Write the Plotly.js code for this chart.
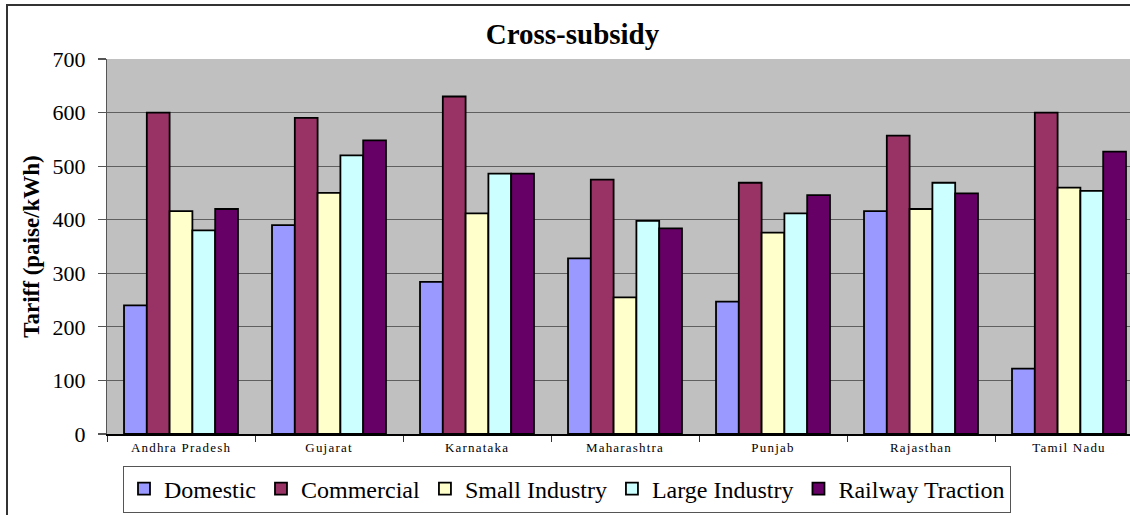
<!DOCTYPE html>
<html>
<head>
<meta charset="utf-8">
<script src="https://cdn.plot.ly/plotly-3.0.1.min.js"></script>
<style>
  html, body { margin: 0; padding: 0; background: #fff; overflow: hidden; width: 1130px; height: 515px; }
  #chart { position: absolute; left: 0; top: 0; width: 1145px; height: 515px; }
  #frame { position: absolute; left: 6px; top: 4px; width: 1200px; height: 600px;
           border: 2px solid #333; pointer-events: none; }
  #chart .xtick text { letter-spacing: 1.2px; }
</style>
</head>
<body>
<div id="chart"></div>
<div id="frame"></div>
<script>
// States on the category axis
const states = ["Andhra Pradesh", "Gujarat", "Karnataka", "Maharashtra", "Punjab", "Rajasthan", "Tamil Nadu"];

// Tariff by consumer class, paise/kWh
const domestic       = [240, 390, 284, 328, 247, 416, 122];
const commercial     = [600, 590, 630, 475, 469, 557, 600];
const smallIndustry  = [416, 450, 412, 255, 376, 420, 460];
const largeIndustry  = [380, 520, 486, 398, 412, 469, 454];
const railwayTraction = [420, 548, 486, 384, 446, 449, 527];

const yTicks = [0, 100, 200, 300, 400, 500, 600, 700];

const serif = "Liberation Serif";

const series = [
  { name: "Domestic",         values: domestic,        color: "#9999FF" },
  { name: "Commercial",       values: commercial,      color: "#993366" },
  { name: "Small Industry",   values: smallIndustry,   color: "#FFFFCC" },
  { name: "Large Industry",   values: largeIndustry,   color: "#CCFFFF" },
  { name: "Railway Traction", values: railwayTraction, color: "#660066" }
];

const traces = series.map(s => ({
  type: "bar",
  name: s.name,
  x: states,
  y: s.values,
  marker: { color: s.color, line: { color: "#000", width: 1.8 } },
  hoverinfo: "skip"
}));

const layout = {
  width: 1145,
  height: 515,
  margin: { l: 107, r: 2, t: 59, b: 76 },
  paper_bgcolor: "rgba(0,0,0,0)",
  plot_bgcolor: "#C0C0C0",
  barmode: "group",
  bargap: 0.23,
  bargroupgap: 0,
  showlegend: true,
  title: {
    text: "<b>Cross-subsidy</b>",
    font: { family: serif, size: 29, color: "#000" },
    xref: "container", x: 0.5, xanchor: "center",
    yref: "container", y: 1 - 34 / 515, yanchor: "middle"
  },
  xaxis: {
    type: "category",
    tickson: "boundaries",
    ticks: "outside",
    ticklen: 6,
    tickwidth: 1,
    tickcolor: "#333",
    showline: true,
    linecolor: "#000",
    linewidth: 2,
    showgrid: false,
    tickfont: { family: serif, size: 13, color: "#000" },
    fixedrange: true
  },
  yaxis: {
    range: [0, 700],
    tickvals: yTicks,
    ticktext: yTicks.map(String),
    ticks: "outside",
    ticklen: 8,
    tickwidth: 1.2,
    tickcolor: "#555",
    ticklabelstandoff: 8,
    showline: true,
    linecolor: "#555",
    linewidth: 1.2,
    showgrid: true,
    gridcolor: "#5F5F5F",
    gridwidth: 1.2,
    zeroline: false,
    tickfont: { family: serif, size: 22, color: "#000" },
    title: {
      text: "<b>Tariff (paise/kWh)</b>",
      font: { family: serif, size: 23, color: "#000" },
      standoff: 6
    },
    fixedrange: true
  },
  legend: {
    orientation: "h",
    x: (123 - 107) / 1036,
    xanchor: "left",
    y: -(471 - 439) / 380,
    yanchor: "top",
    bgcolor: "#fff",
    bordercolor: "#555",
    borderwidth: 1,
    font: { family: serif, size: 24, color: "#000" },
    traceorder: "normal"
  }
};

Plotly.newPlot("chart", traces, layout, { staticPlot: true, displayModeBar: false });
</script>
</body>
</html>
